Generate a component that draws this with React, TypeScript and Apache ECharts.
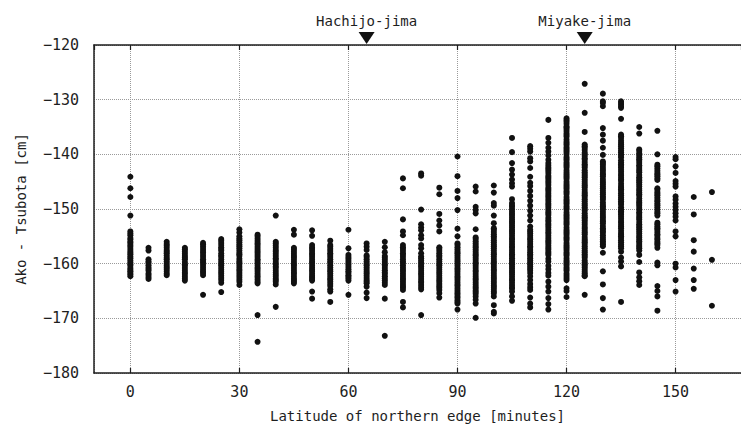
import React, { useEffect, useRef } from "react";
import * as echarts from "echarts";

// Latitude of the northern edge of the Kuroshio path, in minutes
const latitudes = [
  0, 5, 10, 15, 20, 25, 30, 35, 40, 45, 50, 55, 60, 65, 70, 75, 80, 85, 90, 95,
  100, 105, 110, 115, 120, 125, 130, 135, 140, 145, 150, 155, 160,
];

// Sea-level difference Ako - Tsubota [cm], one list per latitude above
const differences: number[][] = [
  [-144.1, -146.2, -147.8, -151.2, -154.1, -154.5, -154.8, -155.3, -155.6, -156.0, -156.2, -156.6, -156.9, -157.3, -157.7, -158.0, -158.3, -158.7, -159.0, -159.4, -159.8, -160.1, -160.4, -160.8, -161.1, -161.4, -161.7, -162.0, -162.3],
  [-157.1, -157.6, -159.2, -159.6, -159.9, -160.3, -160.7, -161.0, -161.3, -161.8, -162.1, -162.5, -162.8],
  [-156.0, -156.4, -156.7, -157.1, -157.5, -157.8, -158.1, -158.5, -158.9, -159.2, -159.6, -160.0, -160.4, -160.7, -161.0, -161.4, -161.8, -162.1],
  [-157.1, -157.4, -157.8, -158.2, -158.6, -158.9, -159.2, -159.7, -160.1, -160.4, -160.8, -161.2, -161.6, -161.9, -162.3, -162.7, -163.1],
  [-156.2, -156.5, -156.9, -157.3, -157.7, -158.0, -158.4, -158.8, -159.2, -159.5, -159.8, -160.2, -160.6, -161.0, -161.4, -161.7, -162.1, -165.7],
  [-155.5, -155.8, -156.2, -156.6, -157.0, -157.3, -157.6, -158.1, -158.5, -158.8, -159.2, -159.6, -160.0, -160.3, -160.7, -161.1, -161.5, -161.8, -162.2, -162.6, -163.0, -163.5, -165.2],
  [-153.7, -154.3, -155.0, -155.4, -155.7, -156.1, -156.5, -156.8, -157.2, -157.6, -158.0, -158.3, -158.6, -159.1, -159.5, -159.8, -160.2, -160.6, -161.0, -161.3, -161.7, -162.1, -162.5, -162.9, -163.3, -163.9],
  [-154.7, -155.0, -155.4, -155.8, -156.2, -156.5, -156.9, -157.3, -157.7, -158.0, -158.4, -158.8, -159.2, -159.5, -159.9, -160.3, -160.7, -161.0, -161.4, -161.8, -162.2, -162.5, -162.9, -163.3, -163.6, -169.4, -174.3],
  [-151.2, -156.0, -156.3, -156.7, -157.1, -157.5, -157.8, -158.2, -158.6, -159.0, -159.3, -159.7, -160.1, -160.5, -160.8, -161.2, -161.6, -162.0, -162.3, -162.7, -163.0, -163.3, -163.8, -167.9],
  [-153.8, -154.7, -157.1, -157.4, -157.8, -158.2, -158.6, -158.9, -159.3, -159.7, -160.1, -160.4, -160.8, -161.2, -161.6, -161.9, -162.3, -162.7, -163.0, -163.3, -163.6],
  [-153.9, -154.9, -156.6, -157.0, -157.3, -157.7, -158.1, -158.4, -158.8, -159.2, -159.6, -159.9, -160.3, -160.7, -161.1, -161.4, -161.8, -162.2, -162.5, -162.8, -163.1, -165.1, -166.4],
  [-155.8, -156.6, -156.9, -157.3, -157.7, -158.1, -158.4, -158.8, -159.2, -159.6, -159.9, -160.3, -160.7, -161.1, -161.4, -161.8, -162.2, -162.6, -162.9, -163.3, -163.7, -164.1, -164.7, -165.1, -167.0],
  [-153.8, -157.2, -158.4, -158.8, -159.1, -159.5, -159.9, -160.2, -160.6, -161.0, -161.4, -161.7, -162.1, -162.4, -162.7, -163.1, -165.7],
  [-156.3, -156.9, -157.5, -158.5, -158.8, -159.2, -159.6, -160.0, -160.3, -160.7, -161.1, -161.5, -161.8, -162.2, -162.6, -163.0, -163.3, -163.6, -164.2, -165.3, -166.3],
  [-156.0, -157.0, -157.9, -158.6, -158.9, -159.3, -159.7, -160.1, -160.4, -160.8, -161.2, -161.6, -161.9, -162.3, -162.7, -163.1, -163.5, -163.9, -166.4, -173.2],
  [-144.4, -146.2, -151.9, -154.1, -154.8, -156.6, -157.0, -157.3, -157.7, -158.1, -158.4, -158.8, -159.2, -159.6, -159.9, -160.3, -160.7, -161.1, -161.4, -161.8, -162.2, -162.6, -162.9, -163.3, -163.7, -164.1, -164.4, -164.8, -167.0, -168.0],
  [-143.5, -143.9, -150.1, -152.8, -153.4, -153.9, -154.8, -155.4, -156.6, -157.2, -158.1, -158.7, -159.0, -159.4, -159.8, -160.2, -160.5, -160.9, -161.3, -161.7, -162.0, -162.4, -162.8, -163.2, -163.5, -163.9, -164.3, -164.7, -169.4],
  [-146.1, -147.3, -150.9, -152.1, -153.0, -154.1, -157.0, -157.3, -157.7, -158.1, -158.5, -158.8, -159.2, -159.6, -160.0, -160.3, -160.7, -161.1, -161.5, -161.8, -162.2, -162.6, -163.0, -163.3, -163.7, -164.1, -164.4, -164.8, -165.4, -166.2],
  [-140.4, -144.0, -146.7, -148.0, -150.2, -153.6, -155.0, -156.3, -156.6, -157.0, -157.4, -157.8, -158.1, -158.5, -158.9, -159.3, -159.6, -160.0, -160.4, -160.8, -161.1, -161.5, -161.9, -162.3, -162.6, -163.0, -163.4, -163.8, -164.1, -164.5, -164.9, -165.3, -165.6, -166.0, -166.3, -166.7, -167.0, -167.3, -168.4],
  [-145.9, -146.8, -149.6, -150.2, -150.8, -153.7, -155.2, -155.5, -155.9, -156.3, -156.7, -157.0, -157.4, -157.8, -158.2, -158.5, -158.9, -159.3, -159.7, -160.0, -160.4, -160.8, -161.2, -161.5, -161.9, -162.3, -162.7, -163.0, -163.4, -163.8, -164.2, -164.5, -164.9, -165.2, -165.5, -166.0, -166.6, -167.3, -169.9],
  [-145.7, -147.0, -148.9, -149.4, -151.2, -152.6, -153.5, -153.8, -154.2, -154.6, -155.0, -155.3, -155.7, -156.1, -156.5, -156.8, -157.2, -157.6, -158.0, -158.3, -158.7, -159.1, -159.5, -159.8, -160.2, -160.6, -161.0, -161.3, -161.7, -162.1, -162.5, -162.8, -163.2, -163.6, -164.0, -164.3, -164.7, -165.1, -165.4, -166.0, -167.6, -168.8, -169.1],
  [-137.0, -139.6, -141.6, -142.8, -143.7, -144.6, -145.3, -145.9, -148.2, -148.9, -149.3, -149.6, -150.0, -150.4, -150.8, -151.1, -151.5, -151.9, -152.3, -152.6, -153.0, -153.4, -153.8, -154.1, -154.5, -154.9, -155.3, -155.6, -156.0, -156.4, -156.8, -157.1, -157.5, -157.9, -158.3, -158.6, -159.0, -159.4, -159.8, -160.1, -160.5, -160.9, -161.3, -161.6, -162.0, -162.4, -162.8, -163.1, -163.5, -163.9, -164.3, -164.6, -165.1, -166.0, -166.8],
  [-138.5, -139.0, -139.5, -140.7, -141.3, -142.5, -144.1, -145.2, -145.8, -146.7, -147.6, -148.5, -149.4, -150.3, -151.2, -152.1, -153.2, -153.8, -154.1, -154.5, -154.9, -155.3, -155.6, -156.0, -156.4, -156.8, -157.1, -157.5, -157.9, -158.3, -158.6, -159.0, -159.4, -159.8, -160.1, -160.5, -160.9, -161.2, -161.7, -162.3, -163.0, -163.7, -164.3, -164.8, -166.2, -167.3, -168.0],
  [-133.7, -137.0, -137.9, -138.8, -139.5, -140.2, -141.0, -141.6, -142.0, -142.4, -142.7, -143.0, -143.4, -143.9, -144.2, -144.5, -144.9, -145.2, -145.6, -146.1, -146.4, -146.7, -147.1, -147.5, -147.8, -148.2, -148.6, -149.0, -149.3, -149.7, -150.1, -150.5, -150.8, -151.1, -151.6, -152.0, -152.3, -152.7, -153.0, -153.4, -153.8, -154.2, -154.5, -154.9, -155.3, -155.7, -156.0, -156.3, -156.7, -157.1, -157.4, -157.8, -158.1, -158.4, -159.1, -159.6, -160.4, -161.0, -161.7, -162.2, -163.3, -164.2, -165.1, -166.3, -167.4, -168.4],
  [-133.4, -133.7, -134.0, -134.4, -134.9, -135.1, -135.4, -135.8, -136.2, -136.5, -136.8, -137.3, -137.7, -138.0, -138.3, -138.7, -139.0, -139.3, -139.6, -140.0, -140.5, -140.8, -141.1, -141.5, -141.8, -142.1, -142.4, -142.9, -143.3, -143.6, -143.9, -144.2, -144.5, -145.0, -145.4, -145.7, -146.0, -146.3, -146.7, -147.0, -147.3, -147.8, -148.2, -148.5, -148.8, -149.1, -149.5, -149.8, -150.1, -150.6, -151.0, -151.3, -151.6, -151.9, -152.3, -152.6, -152.9, -153.4, -153.8, -154.1, -154.4, -154.7, -155.1, -155.4, -155.7, -156.2, -156.6, -156.9, -157.2, -157.5, -157.9, -158.2, -158.5, -159.0, -159.4, -159.7, -160.0, -160.3, -160.7, -161.0, -161.3, -161.8, -162.2, -162.6, -163.0, -164.5, -165.0, -166.1],
  [-127.1, -132.4, -135.9, -138.2, -138.5, -138.8, -139.2, -139.7, -140.0, -140.3, -140.7, -141.0, -141.4, -141.8, -142.1, -142.4, -142.9, -143.3, -143.6, -143.9, -144.2, -144.6, -145.0, -145.4, -145.7, -146.0, -146.5, -146.9, -147.2, -147.5, -147.8, -148.2, -148.6, -149.0, -149.3, -149.7, -150.0, -150.3, -150.8, -151.2, -151.5, -151.8, -152.1, -152.5, -152.9, -153.3, -153.6, -154.0, -154.3, -154.6, -155.1, -155.5, -155.8, -156.1, -156.4, -156.8, -157.2, -157.6, -157.9, -158.3, -158.6, -158.9, -159.4, -159.8, -160.1, -160.4, -160.7, -161.1, -161.5, -161.8, -162.1, -162.3, -165.7],
  [-128.9, -130.3, -130.6, -131.2, -135.2, -136.4, -137.5, -138.8, -140.1, -141.3, -141.6, -141.9, -142.3, -142.7, -143.0, -143.4, -143.7, -144.0, -144.5, -144.9, -145.2, -145.5, -145.9, -146.2, -146.6, -147.0, -147.3, -147.7, -148.0, -148.3, -148.8, -149.2, -149.5, -149.8, -150.1, -150.5, -150.9, -151.3, -151.6, -152.0, -152.3, -152.6, -153.1, -153.5, -153.8, -154.1, -154.4, -154.8, -155.2, -155.6, -155.9, -156.2, -156.5, -156.8, -158.0, -161.4, -163.8, -166.3, -168.4],
  [-130.3, -130.6, -130.9, -131.2, -131.5, -133.5, -136.4, -136.7, -137.0, -137.5, -137.9, -138.2, -138.5, -138.9, -139.3, -139.6, -140.0, -140.3, -140.6, -141.1, -141.5, -141.8, -142.1, -142.4, -142.8, -143.2, -143.6, -143.9, -144.3, -144.6, -144.9, -145.4, -145.8, -146.1, -146.4, -146.7, -147.1, -147.5, -147.9, -148.2, -148.6, -148.9, -149.2, -149.7, -150.1, -150.4, -150.7, -151.0, -151.4, -151.8, -152.2, -152.5, -152.9, -153.2, -153.5, -154.0, -154.4, -154.7, -155.0, -155.3, -155.7, -156.1, -156.5, -156.8, -157.2, -157.8, -158.9, -159.6, -160.5, -167.0],
  [-135.0, -136.2, -139.1, -139.4, -139.8, -140.2, -140.6, -140.9, -141.2, -141.6, -142.0, -142.3, -142.7, -143.0, -143.3, -143.8, -144.2, -144.5, -144.8, -145.1, -145.5, -145.9, -146.3, -146.6, -147.0, -147.3, -147.6, -148.1, -148.5, -148.8, -149.1, -149.4, -149.8, -150.2, -150.6, -150.9, -151.3, -151.6, -151.9, -152.4, -152.8, -153.1, -153.4, -153.7, -154.1, -154.5, -154.9, -155.2, -155.6, -155.9, -156.2, -156.6, -156.9, -157.2, -157.6, -158.4, -159.7, -161.6, -162.5, -163.2, -163.9],
  [-135.7, -140.0, -141.9, -142.2, -142.6, -143.0, -143.4, -143.7, -144.0, -144.4, -144.7, -146.2, -146.5, -146.9, -147.2, -147.5, -147.9, -148.3, -148.6, -149.0, -149.3, -149.7, -150.1, -150.5, -150.8, -151.2, -152.5, -152.8, -153.2, -153.5, -153.8, -154.2, -154.6, -154.9, -155.3, -155.6, -156.0, -156.3, -156.6, -157.1, -159.8, -160.3, -164.1, -165.0, -166.0, -168.6],
  [-140.5, -140.9, -142.2, -143.4, -144.9, -145.4, -145.9, -147.7, -148.3, -149.0, -149.6, -150.2, -150.8, -151.4, -152.1, -154.1, -155.0, -160.0, -160.7, -163.0, -165.1],
  [-147.8, -151.0, -155.7, -157.8, -160.9, -163.0, -164.6],
  [-146.9, -159.3, -167.7],
];

// Islands marked along the top edge
const islandNames = ["Hachijo-jima", "Miyake-jima"];
const islandLatitudes = [65, 125];

const FONT = "'DejaVu Sans Mono', 'Liberation Mono', monospace";
const INK = "#1e1e1e";

export default function App() {
  const ref = useRef<HTMLDivElement>(null);

  useEffect(() => {
    if (!ref.current) return;
    const chart = echarts.init(ref.current, null, { renderer: "svg" });

    const points = latitudes.flatMap((lat, i) =>
      differences[i].map((v) => [lat, v])
    );

    const axisLine = { onZero: false, lineStyle: { color: INK, width: 1.5 } };
    const grid = { type: "dotted", color: "#9a9a9a", width: 1 };

    chart.setOption({
      animation: false,
      backgroundColor: "#ffffff",
      grid: { left: 94, right: 0, top: 45, bottom: 57 },
      xAxis: [
        {
          type: "value",
          position: "bottom",
          min: -10,
          max: 168,
          splitNumber: 6,
          name: "Latitude of northern edge [minutes]",
          nameLocation: "middle",
          nameGap: 36,
          nameTextStyle: { fontFamily: FONT, fontSize: 14, color: INK },
          axisLine,
          axisTick: { inside: true, length: 5, lineStyle: { color: INK, width: 1.2 } },
          axisLabel: {
            fontFamily: FONT,
            fontSize: 15,
            color: INK,
            margin: 11,
            showMinLabel: false,
            showMaxLabel: false,
            formatter: (v: number) => (v >= 0 && v % 30 === 0 ? String(v) : ""),
          },
          splitLine: { show: true, lineStyle: grid },
        },
        {
          type: "value",
          position: "top",
          min: -10,
          max: 168,
          splitNumber: 6,
          axisLine,
          axisTick: { inside: true, length: 5, lineStyle: { color: INK, width: 1.2 } },
          axisLabel: { show: false },
          splitLine: { show: false },
        },
      ],
      yAxis: {
        type: "value",
        min: -180,
        max: -120,
        interval: 10,
        name: "Ako - Tsubota [cm]",
        nameLocation: "middle",
        nameRotate: 90,
        nameGap: 66,
        nameTextStyle: { fontFamily: FONT, fontSize: 14, color: INK },
        axisLine,
        axisTick: { show: false },
        axisLabel: {
          fontFamily: FONT,
          fontSize: 15,
          color: INK,
          margin: 15,
          formatter: (v: number) => String(v).replace("-", "\u2212"),
        },
        splitLine: { show: true, lineStyle: grid },
      },
      series: [
        {
          type: "scatter",
          xAxisIndex: 0,
          data: points,
          symbol: "circle",
          symbolSize: 6,
          itemStyle: { color: "#111111", opacity: 1 },
          markPoint: {
            symbol: "triangle",
            symbolRotate: 180,
            symbolSize: [16, 12],
            symbolOffset: [0, -7],
            itemStyle: { color: "#111", opacity: 1 },
            label: {
              show: true,
              position: "top",
              distance: 4,
              formatter: "{b}",
              fontFamily: FONT,
              fontSize: 14,
              color: INK,
            },
            data: islandLatitudes.map((lat, i) => ({
              name: islandNames[i],
              coord: [lat, -120],
            })),
          },
        },
      ],
    });

    return () => chart.dispose();
  }, []);

  return (
    <div
      ref={ref}
      style={{ position: "absolute", left: 0, top: 0, width: 741, height: 430 }}
    />
  );
}
